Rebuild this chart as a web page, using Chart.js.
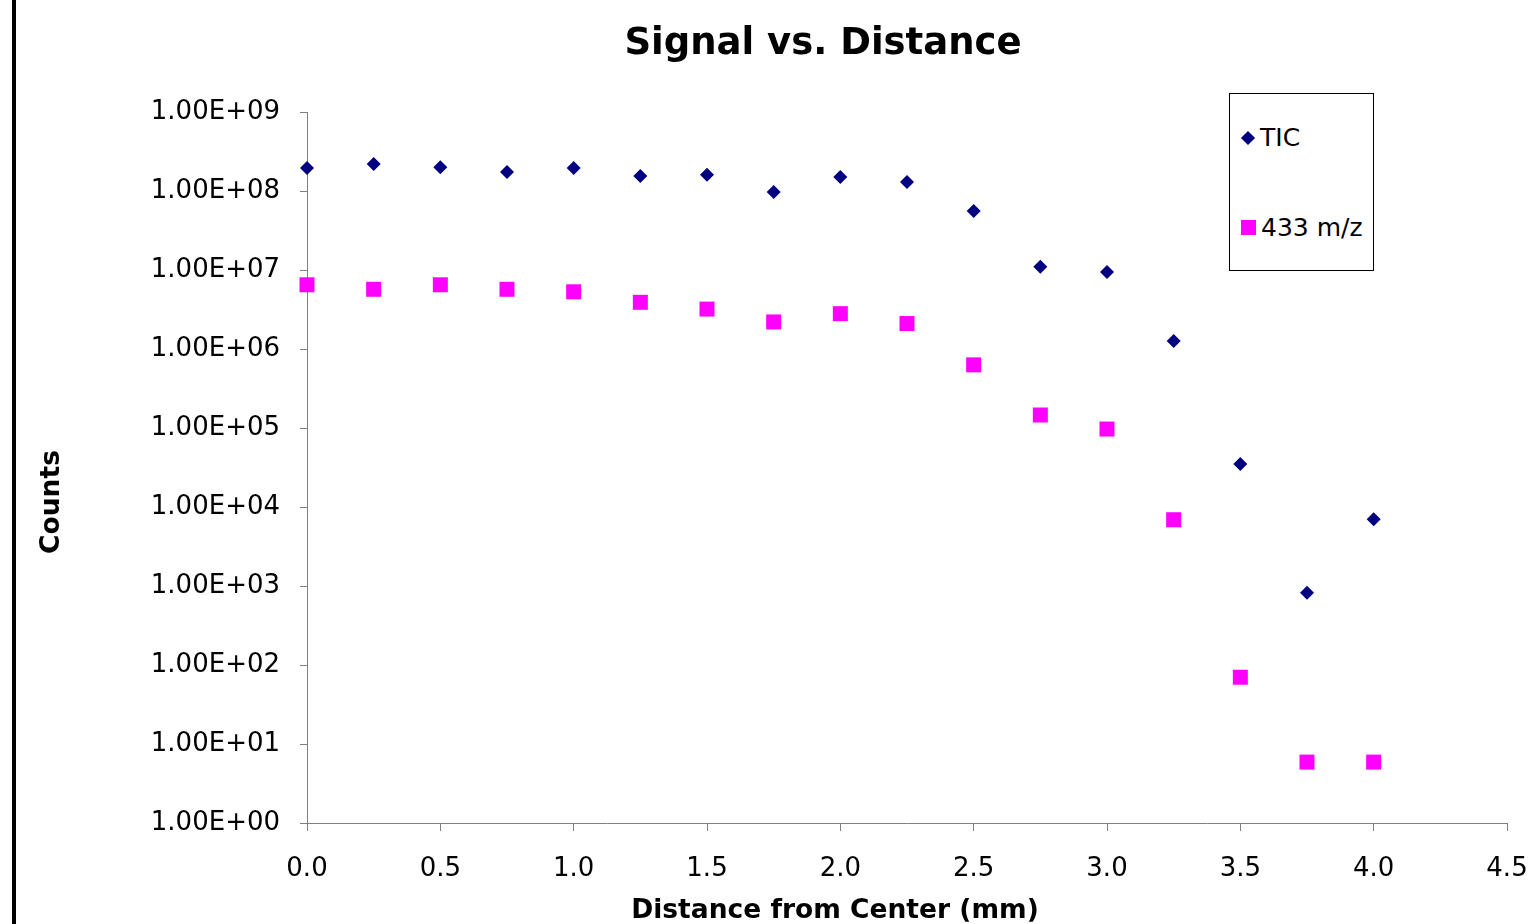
<!DOCTYPE html>
<html>
<head>
<meta charset="utf-8">
<title>Signal vs. Distance</title>
<script src="https://cdn.jsdelivr.net/npm/chart.js@4.4.0/dist/chart.umd.min.js"></script>
<style>
  html, body { margin: 0; padding: 0; background: #fff; }
  #wrap { position: relative; width: 1535px; height: 924px; overflow: hidden; }
  #edge { position: absolute; left: 12px; top: 0; width: 4px; height: 924px; background: #000; }
  #chart { position: absolute; left: 0; top: 0; }
  #legend {
    position: absolute; left: 1229px; top: 93px; width: 143px; height: 176px;
    border: 1px solid #000; background: #fff;
    font-family: "DejaVu Sans", Verdana, sans-serif; font-size: 25px; color: #000;
  }
  .item { position: absolute; left: 10px; display: flex; align-items: center; white-space: nowrap; }
  .mark { display: inline-block; margin-right: 5px; }
  .mark.diamond { width: 10px; height: 10px; transform: rotate(45deg); margin: 0 7px 0 3px; }
  .mark.square { width: 15px; height: 15px; margin-left: 1px; }
</style>
</head>
<body>
<div id="wrap">
  <div id="edge"></div>
  <canvas id="chart" width="1535" height="924"></canvas>
  <div id="legend"></div>
</div>
<script>
const distance = [0, 0.25, 0.5, 0.75, 1.0, 1.25, 1.5, 1.75, 2.0, 2.25, 2.5, 2.75, 3.0, 3.25, 3.5, 3.75, 4.0];
const ticCounts = [1.95e8, 2.2e8, 2.0e8, 1.74e8, 1.95e8, 1.55e8, 1.6e8, 9.7e7, 1.5e8, 1.3e8,
                   5.6e7, 1.1e7, 9.4e6, 1.26e6, 3.5e4, 8.2e2, 7.0e3];
const mzCounts = [6.5e6, 5.7e6, 6.5e6, 5.7e6, 5.3e6, 3.9e6, 3.2e6, 2.2e6, 2.8e6, 2.1e6,
                  6.3e5, 1.46e5, 9.7e4, 6.9e3, 70, 5.9, 5.9];
const xTicks = [0, 0.5, 1.0, 1.5, 2.0, 2.5, 3.0, 3.5, 4.0, 4.5];
const yTicks = [1, 1e1, 1e2, 1e3, 1e4, 1e5, 1e6, 1e7, 1e8, 1e9];

const titleText = 'Signal vs. Distance';
const xTitle = 'Distance from Center (mm)';
const yTitle = 'Counts';
const FONT = '"DejaVu Sans", Verdana, sans-serif';
const AXIS = '#808080';

function sci(v) {
  const e = Math.round(Math.log10(v));
  const m = v / Math.pow(10, e);
  return m.toFixed(2) + 'E' + (e < 0 ? '-' : '+') + String(Math.abs(e)).padStart(2, '0');
}

const textPlugin = {
  id: 'excelText',
  afterDraw(chart) {
    const ctx = chart.ctx;
    ctx.save();
    ctx.fillStyle = '#000';
    ctx.textAlign = 'center';
    ctx.textBaseline = 'middle';
    ctx.font = 'bold 37px ' + FONT;
    ctx.fillText(titleText, 823, 44);
    ctx.font = 'bold 26.5px ' + FONT;
    ctx.fillText(xTitle, 835, 911);
    ctx.translate(52, 502);
    ctx.rotate(-Math.PI / 2);
    ctx.fillText(yTitle, 0, 0);
    ctx.restore();
  }
};

const chart = new Chart(document.getElementById('chart'), {
  type: 'scatter',
  data: {
    datasets: [
      {
        label: 'TIC',
        data: distance.map((d, i) => ({ x: d, y: ticCounts[i] })),
        pointStyle: 'rectRot',
        pointRadius: 7,
        pointHoverRadius: 7,
        backgroundColor: '#000080',
        borderColor: '#000080',
        borderWidth: 0,
        clip: false
      },
      {
        label: '433 m/z',
        data: distance.map((d, i) => ({ x: d, y: mzCounts[i] })),
        pointStyle: 'rect',
        pointRadius: 10.6,
        pointHoverRadius: 10.6,
        backgroundColor: '#ff00ff',
        borderColor: '#ff00ff',
        borderWidth: 0,
        clip: false
      }
    ]
  },
  options: {
    responsive: false,
    animation: false,
    layout: { padding: { left: 0, right: 28, top: 112, bottom: 0 } },
    plugins: { legend: { display: false }, title: { display: false }, tooltip: { enabled: false } },
    scales: {
      x: {
        type: 'linear',
        min: 0,
        max: 4.5,
        afterBuildTicks: s => { s.ticks = xTicks.map(v => ({ value: v })); },
        afterFit: s => { s.height = 101; s.paddingLeft = 0; s.paddingRight = 0; },
        ticks: {
          color: '#000',
          font: { family: FONT, size: 26 },
          padding: 23,
          maxRotation: 0,
          callback: v => Number(v).toFixed(1)
        },
        grid: { drawOnChartArea: false, drawTicks: true, tickLength: 8, color: AXIS },
        border: { color: AXIS, width: 1 }
      },
      y: {
        type: 'logarithmic',
        min: 1,
        max: 1e9,
        afterBuildTicks: s => { s.ticks = yTicks.map(v => ({ value: v })); },
        afterFit: s => { s.width = 307; s.paddingTop = 0; s.paddingBottom = 0; },
        ticks: {
          color: '#000',
          font: { family: FONT, size: 26 },
          padding: 20,
          autoSkip: false,
          callback: v => sci(v)
        },
        grid: { drawOnChartArea: false, drawTicks: true, tickLength: 7, color: AXIS },
        border: { color: AXIS, width: 1 }
      }
    }
  },
  plugins: [textPlugin]
});

// legend box built from the dataset styles
const legend = document.getElementById('legend');
chart.data.datasets.forEach((ds, i) => {
  const item = document.createElement('div');
  item.className = 'item';
  item.style.top = (i === 0 ? 29 : 119) + 'px';
  const mark = document.createElement('span');
  mark.className = 'mark ' + (ds.pointStyle === 'rectRot' ? 'diamond' : 'square');
  mark.style.background = ds.backgroundColor;
  const label = document.createElement('span');
  label.textContent = ds.label;
  item.appendChild(mark);
  item.appendChild(label);
  legend.appendChild(item);
});
</script>
</body>
</html>
